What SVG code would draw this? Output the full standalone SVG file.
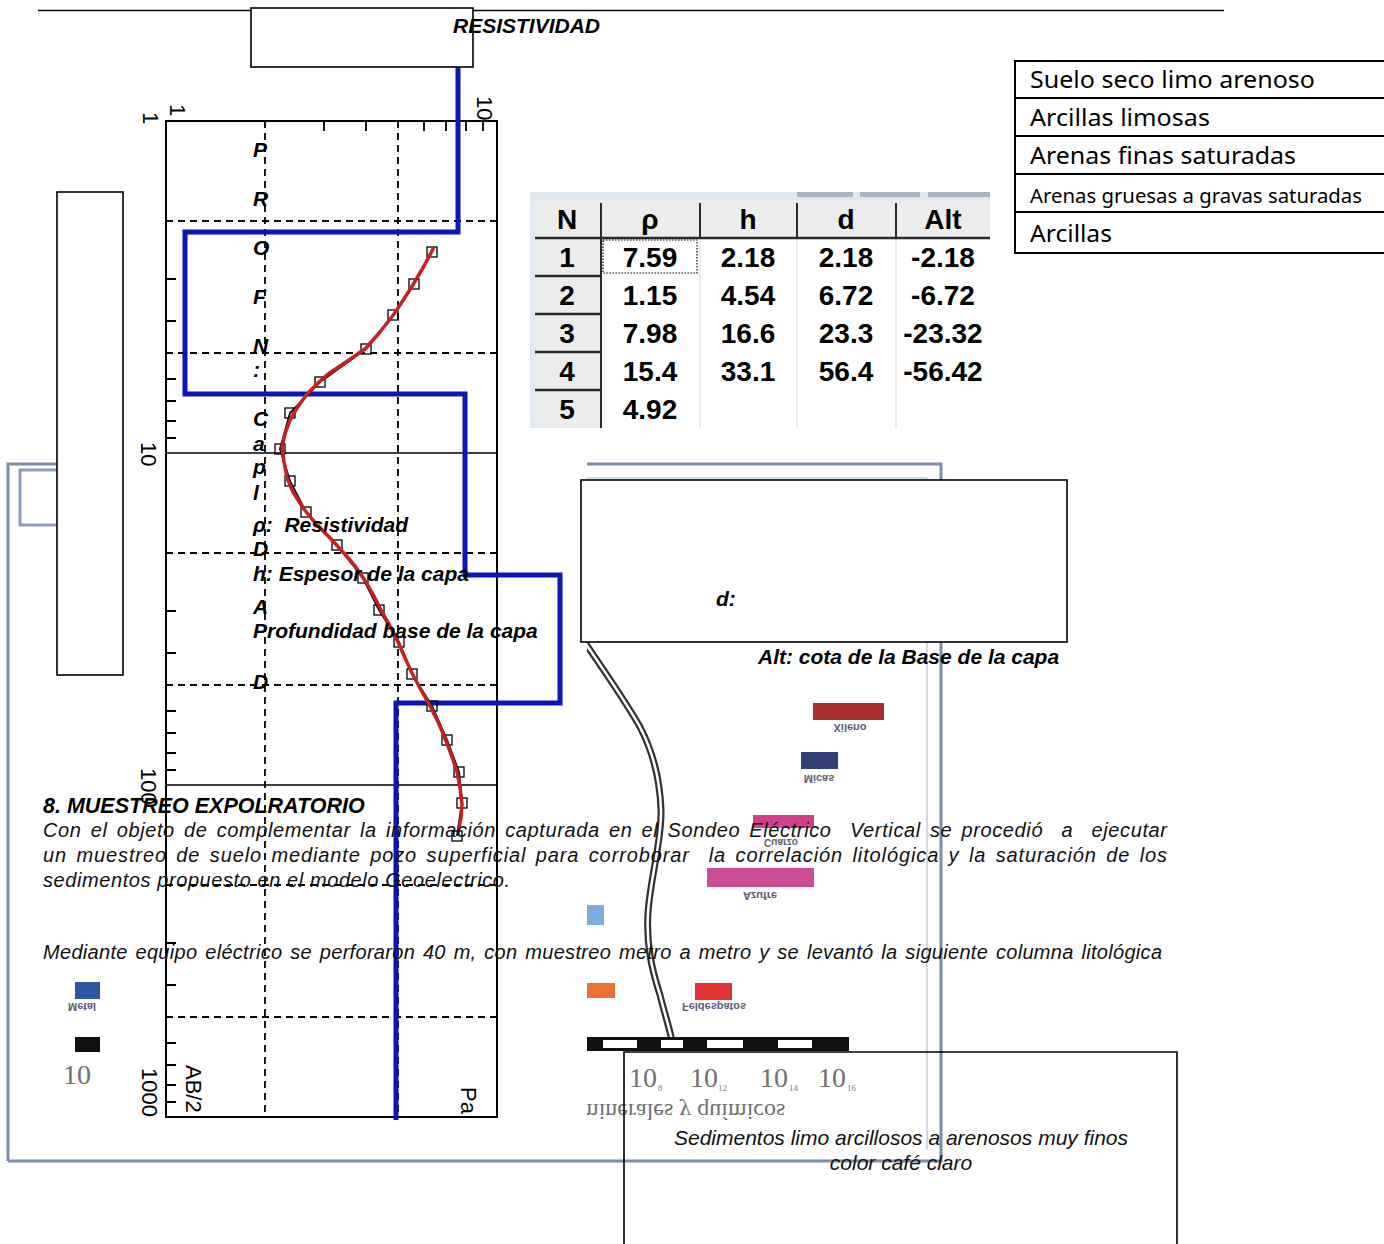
<svg xmlns="http://www.w3.org/2000/svg" width="1384" height="1244" viewBox="0 0 1384 1244">
<defs>
<style>
.bi{font-family:"Liberation Sans",Arial,sans-serif;font-weight:bold;font-style:italic;font-size:21px;fill:#000}
.it{font-family:"Liberation Sans",Arial,sans-serif;font-style:italic;font-size:20px;fill:#111;white-space:pre}
.ax{font-family:"Liberation Sans",Arial,sans-serif;font-size:22px;fill:#000}
.tb{font-family:"Liberation Sans",Arial,sans-serif;font-weight:bold;font-size:28px;fill:#000;text-anchor:middle}
.lg{font-family:"Noto Sans","Open Sans",sans-serif;font-size:24px;fill:#000}
.fl{font-family:"Liberation Sans",Arial,sans-serif;font-weight:bold;font-size:11px;fill:#5a5e74;text-anchor:middle}
.sr{font-family:"Liberation Serif","Times New Roman",serif;font-size:28px;fill:#707070}
.sub{font-family:"Liberation Serif","Times New Roman",serif;font-size:9px;fill:#808080}
.box{fill:#fff;stroke:#000;stroke-width:1.6}
.dash{stroke:#000;stroke-width:1.8;stroke-dasharray:7 5;fill:none}
.tick{stroke:#000;stroke-width:1.8;fill:none}
.sq{fill:none;stroke:#000;stroke-width:1.3}
.frame{fill:none;stroke:#7d8cab;stroke-width:3}
</style>
</defs>
<rect width="1384" height="1244" fill="#fff"/>

<g id="background-window">
  <path class="frame" d="M8,1161 L8,464 L60,464"/>
  <rect x="20" y="470" width="40" height="55" fill="none" stroke="#8c9cc0" stroke-width="3"/>
  <path class="frame" d="M587,464 L941,464 L941,1161 L8,1161"/>
  <line x1="587" y1="478" x2="927" y2="478" stroke="#c3cbdb" stroke-width="1.5"/>
  <line x1="927" y1="478" x2="927" y2="1150" stroke="#c3cbdb" stroke-width="1.5"/>
  <path d="M575,628 C600,665 625,700 640,727 C652,750 660,780 661,810 C662,840 650,880 648,913 C646,945 652,970 660,995 C665,1015 670,1030 673,1045" fill="none" stroke="#333" stroke-width="7"/>
  <path d="M575,628 C600,665 625,700 640,727 C652,750 660,780 661,810 C662,840 650,880 648,913 C646,945 652,970 660,995 C665,1015 670,1030 673,1045" fill="none" stroke="#fff" stroke-width="2.5"/>
  <rect x="813" y="703" width="71" height="17" fill="#a8302c"/>
  <text class="fl" transform="translate(850,724) scale(1,-1)">Xileno</text>
  <rect x="801" y="752" width="37" height="17" fill="#34407a"/>
  <text class="fl" transform="translate(819,775) scale(1,-1)">Micas</text>
  <rect x="753" y="815" width="61" height="13" fill="#d0408c"/>
  <text class="fl" style="font-size:10px" transform="translate(781,839) scale(1,-1)">Cuarzo</text>
  <rect x="707" y="868" width="107" height="19" fill="#cc4c94"/>
  <text class="fl" transform="translate(760,892) scale(1,-1)">Azufre</text>
  <rect x="587" y="905" width="17" height="20" fill="#78aee2"/>
  <rect x="587" y="983" width="28" height="15" fill="#f07030"/>
  <rect x="695" y="983" width="37" height="17" fill="#e03434"/>
  <text class="fl" transform="translate(714,1003) scale(1,-1)">Feldespatos</text>
  <rect x="75" y="982" width="25" height="17" fill="#2f55a8"/>
  <text class="fl" transform="translate(68,1003) scale(1,-1)" style="text-anchor:start">Metal</text>
  <rect x="75" y="1037" width="25" height="15" fill="#111"/>
  <text class="sr" x="63" y="1084">10</text>
  <g id="scale-bar">
    <rect x="587" y="1037" width="262" height="14" fill="#111"/>
    <rect x="603" y="1040" width="34" height="8" fill="#fff"/>
    <rect x="661" y="1040" width="22" height="8" fill="#fff"/>
    <rect x="707" y="1040" width="36" height="8" fill="#fff"/>
    <rect x="778" y="1040" width="34" height="8" fill="#fff"/>
  </g>
  <text class="sr" x="629" y="1087">10</text><text class="sub" x="658" y="1091">8</text>
  <text class="sr" x="690" y="1087">10</text><text class="sub" x="718" y="1091">12</text>
  <text class="sr" x="760" y="1087">10</text><text class="sub" x="789" y="1091">14</text>
  <text class="sr" x="818" y="1087">10</text><text class="sub" x="847" y="1091">16</text>
  <text class="sr" style="font-size:24px" transform="translate(580,1104) scale(1,-1)">minerales y químicos</text>
</g>

<g id="plot">
  <rect x="100" y="88" width="487" height="1034" fill="#fff"/>
  <rect x="166" y="121" width="331" height="996" fill="none" stroke="#000" stroke-width="2"/>
  <path d="M166,453H497M166,785H497" stroke="#000" stroke-width="1.6"/>
  <path class="dash" d="M166,221H497M166,353H497M166,553H497M166,685H497M166,885H497M166,1017H497M265,121V1117M398,121V1117"/>
  <path class="tick" d="M166,279h10M166,321h10M166,379h10M166,401h10M166,421h10M166,438h10M166,611h10M166,653h10M166,711h10M166,733h10M166,753h10M166,770h10M166,943h10M166,985h10M166,1043h10M166,1065h10M166,1085h10M166,1102h10M324,121v10M366,121v10M424,121v10M446,121v10M466,121v10M483,121v10"/>
  <text class="ax" transform="translate(143,112) rotate(90)">1</text>
  <text class="ax" transform="translate(170,104) rotate(90)">1</text>
  <text class="ax" transform="translate(477,96) rotate(90)">10</text>
  <text class="ax" transform="translate(141,442) rotate(90)">10</text>
  <text class="ax" transform="translate(141,768) rotate(90)">100</text>
  <text class="ax" transform="translate(142,1068) rotate(90)">1000</text>
  <text class="ax" transform="translate(186,1065) rotate(90)">AB/2</text>
  <text class="ax" transform="translate(461,1087) rotate(90)">Pa</text>
  <path id="model" d="M458,66V232H185V394H465V575H560V703H396V1120" fill="none" stroke="#0a16b8" stroke-width="5" stroke-linejoin="miter"/>
  <polyline points="432,252 414,284 393,315 366,349 320,382 290,413 280,449 290,481 306,512 337,545 363,578 379,610 399,642 412,674 432,706 447,740 459,772 462,803 457,836" fill="none" stroke="#111" stroke-width="2"/>
  <g class="sq">
    <rect x="427" y="247" width="10" height="10"/><rect x="409" y="279" width="10" height="10"/>
    <rect x="388" y="310" width="10" height="10"/><rect x="361" y="344" width="10" height="10"/>
    <rect x="315" y="377" width="10" height="10"/><rect x="285" y="408" width="10" height="10"/>
    <rect x="275" y="444" width="10" height="10"/><rect x="285" y="476" width="10" height="10"/>
    <rect x="301" y="507" width="10" height="10"/><rect x="332" y="540" width="10" height="10"/>
    <rect x="358" y="573" width="10" height="10"/><rect x="374" y="605" width="10" height="10"/>
    <rect x="394" y="637" width="10" height="10"/><rect x="407" y="669" width="10" height="10"/>
    <rect x="427" y="701" width="10" height="10"/><rect x="442" y="735" width="10" height="10"/>
    <rect x="454" y="767" width="10" height="10"/><rect x="457" y="798" width="10" height="10"/>
    <rect x="452" y="831" width="10" height="10"/>
  </g>
  <polyline points="433,249 424,266 414,283 404,299 394,314 380,332 366,348 352,358 340,366 328,374 319,382 307,394 297,408 290,420 285,434 282,447 284,462 287,478 293,492 303,508 316,524 330,538 343,552 355,566 366,582 374,596 381,610 390,626 398,642 405,658 412,673 421,690 430,706 439,724 446,741 452,757 457,772 460,788 462,804 461,818 459,828" fill="none" stroke="#c42222" stroke-width="3.5" stroke-linejoin="round" stroke-linecap="round"/>
</g>

<g id="table">
  <rect x="530" y="192" width="460" height="236" fill="#dfe7f1"/>
  <rect x="797" y="192" width="56" height="5" fill="#aab4c2"/>
  <rect x="860" y="192" width="60" height="5" fill="#aab4c2"/>
  <rect x="928" y="192" width="62" height="5" fill="#aab4c2"/>
  <rect x="535" y="200" width="455" height="228" fill="#fff"/>
  <rect x="535" y="200" width="455" height="38" fill="#ececec"/>
  <rect x="535" y="238" width="66" height="190" fill="#ececec"/>
  <path d="M700,238V428M797,238V428M896,238V428" stroke="#dadada" stroke-width="1"/>
  <path d="M601,203V428M700,203V237M797,203V237M896,203V237" stroke="#2a2a2a" stroke-width="2"/>
  <path d="M535,238H990M535,276H600M535,314H600M535,352H600M535,390H600" stroke="#2a2a2a" stroke-width="2.5"/>
  <rect x="603" y="240" width="94" height="33" fill="none" stroke="#000" stroke-width="1.2" stroke-dasharray="1.5 1.5"/>
  <text class="tb" x="567" y="229">N</text>
  <text class="tb" x="650" y="229">ρ</text>
  <text class="tb" x="748" y="229">h</text>
  <text class="tb" x="846" y="229">d</text>
  <text class="tb" x="943" y="229">Alt</text>
  <text class="tb" x="567" y="267">1</text><text class="tb" x="650" y="267">7.59</text><text class="tb" x="748" y="267">2.18</text><text class="tb" x="846" y="267">2.18</text><text class="tb" x="943" y="267">-2.18</text>
  <text class="tb" x="567" y="305">2</text><text class="tb" x="650" y="305">1.15</text><text class="tb" x="748" y="305">4.54</text><text class="tb" x="846" y="305">6.72</text><text class="tb" x="943" y="305">-6.72</text>
  <text class="tb" x="567" y="343">3</text><text class="tb" x="650" y="343">7.98</text><text class="tb" x="748" y="343">16.6</text><text class="tb" x="846" y="343">23.3</text><text class="tb" x="943" y="343">-23.32</text>
  <text class="tb" x="567" y="381">4</text><text class="tb" x="650" y="381">15.4</text><text class="tb" x="748" y="381">33.1</text><text class="tb" x="846" y="381">56.4</text><text class="tb" x="943" y="381">-56.42</text>
  <text class="tb" x="567" y="419">5</text><text class="tb" x="650" y="419">4.92</text>
</g>

<g id="legend">
  <rect x="1015" y="61" width="380" height="192" fill="#fff" stroke="#000" stroke-width="2"/>
  <path d="M1015,98H1384M1015,136H1384M1015,174H1384M1015,212H1384" stroke="#000" stroke-width="2"/>
  <text class="lg" x="1030" y="88" textLength="285" lengthAdjust="spacingAndGlyphs">Suelo seco limo arenoso</text>
  <text class="lg" x="1030" y="126" textLength="180" lengthAdjust="spacingAndGlyphs">Arcillas limosas</text>
  <text class="lg" x="1030" y="164" textLength="266" lengthAdjust="spacingAndGlyphs">Arenas finas saturadas</text>
  <text class="lg" x="1030" y="203" style="font-size:20px" textLength="332" lengthAdjust="spacingAndGlyphs">Arenas gruesas a gravas saturadas</text>
  <text class="lg" x="1030" y="242" textLength="82" lengthAdjust="spacingAndGlyphs">Arcillas</text>
</g>

<g id="connectors">
  <line x1="38" y1="10.5" x2="1224" y2="10.5" stroke="#000" stroke-width="1.3"/>
</g>

<g id="boxes">
  <rect id="box-top" class="box" x="251" y="8" width="222" height="59"/>
  <rect id="box-left" class="box" x="57" y="192" width="66" height="483"/>
  <rect id="box-mid" class="box" x="581" y="480" width="486" height="162"/>
  <path id="box-bottom" d="M624,1246V1052H1177V1246" fill="none" stroke="#000" stroke-width="1.6"/>
</g>

<g id="labels">
  <text class="bi" x="453" y="33">RESISTIVIDAD</text>
  <text class="bi" x="253" y="157">P</text>
  <text class="bi" x="253" y="206">R</text>
  <text class="bi" x="253" y="255">O</text>
  <text class="bi" x="253" y="304">F</text>
  <text class="bi" x="253" y="353">N</text>
  <text class="bi" x="253" y="377">:</text>
  <text class="bi" x="253" y="426">C</text>
  <text class="bi" x="253" y="451">a</text>
  <text class="bi" x="253" y="474">p</text>
  <text class="bi" x="253" y="500">l</text>
  <text class="bi" x="253" y="532" style="white-space:pre">ρ:  Resistividad</text>
  <text class="bi" x="253" y="556">D</text>
  <text class="bi" x="253" y="581">h: Espesor de la capa</text>
  <text class="bi" x="253" y="614">A</text>
  <text class="bi" x="253" y="638">Profundidad base de la capa</text>
  <text class="bi" x="253" y="689">D</text>
  <text class="bi" x="716" y="606">d:</text>
  <text class="bi" x="758" y="664">Alt: cota de la Base de la capa</text>
  <text class="bi" x="43" y="813" style="font-size:21.5px">8. MUESTREO EXPOLRATORIO</text>
  <text class="it" x="43" y="837" style="word-spacing:3px" textLength="1124" lengthAdjust="spacing">Con el objeto de complementar la información capturada en el Sondeo Eléctrico  Vertical se procedió  a  ejecutar</text>
  <text class="it" x="43" y="862" style="word-spacing:3px" textLength="1124" lengthAdjust="spacing">un muestreo de suelo mediante pozo superficial para corroborar  la correlación litológica y la saturación de los</text>
  <text class="it" x="43" y="887" textLength="467" lengthAdjust="spacing">sedimentos propuesto en el modelo Geoelectrico.</text>
  <text class="it" x="43" y="959" style="word-spacing:2px" textLength="1119" lengthAdjust="spacing">Mediante equipo eléctrico se perforaron 40 m, con muestreo metro a metro y se levantó la siguiente columna litológica</text>
  <text class="it" x="901" y="1145" text-anchor="middle" style="font-size:21px">Sedimentos limo arcillosos a arenosos muy finos</text>
  <text class="it" x="901" y="1170" text-anchor="middle" style="font-size:21px">color café claro</text>
</g>
</svg>
